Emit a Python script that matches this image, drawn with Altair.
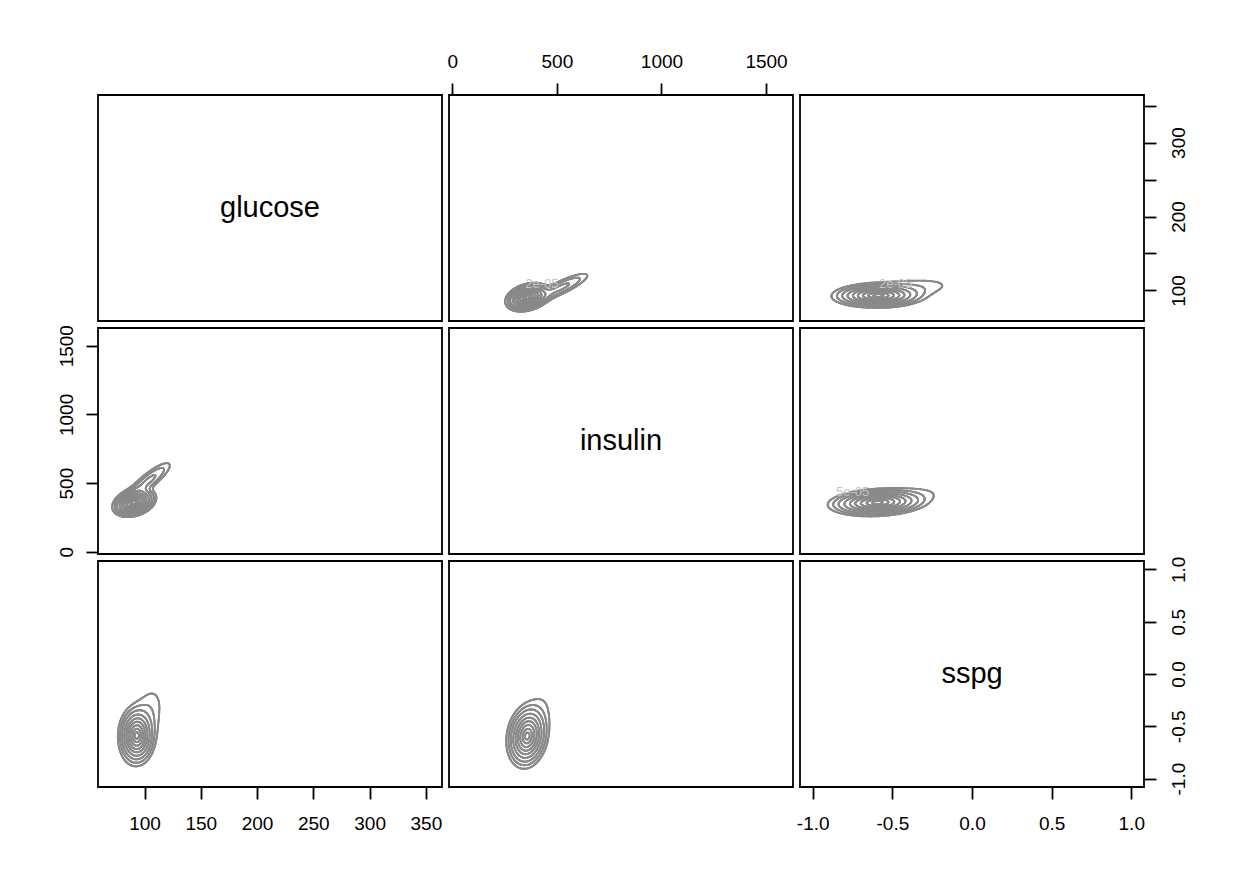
import numpy as np
import pandas as pd
import altair as alt

FONT = "Liberation Sans"
LINE = "#8a8a8a"
LABEL = "#c4c4c4"

VARIABLES = ["glucose", "insulin", "sspg"]
GLUCOSE_DOMAIN = [58.68, 364.32]
INSULIN_DOMAIN = [-15.92, 1628.92]
SSPG_DOMAIN = [-1.08, 1.08]
GLUCOSE_TICKS = [100, 150, 200, 250, 300, 350]
INSULIN_TICKS = [0, 500, 1000, 1500]
SSPG_TICKS = [-1.0, -0.5, 0.0, 0.5, 1.0]

# Gaussian components of each pairwise density, read from the contour shapes
# glucose (x) / insulin (y)
GI_WEIGHT = [1.0, 0.25]
GI_MEAN_X = [91.0, 104.0]
GI_MEAN_Y = [360.0, 520.0]
GI_SD_X = [8.0, 11.5]
GI_SD_Y = [44.0, 78.0]
GI_RHO = [0.3, 0.86]

# glucose (x) / sspg (y)
GS_WEIGHT = [1.0, 0.3]
GS_MEAN_X = [93.0, 100.0]
GS_MEAN_Y = [-0.59, -0.45]
GS_SD_X = [6.7, 11.0]
GS_SD_Y = [0.115, 0.22]
GS_RHO = [0.0, 0.5]

# insulin (x) / sspg (y)
IS_WEIGHT = [1.0, 0.1]
IS_MEAN_X = [358.0, 420.0]
IS_MEAN_Y = [-0.595, -0.35]
IS_SD_X = [41.0, 60.0]
IS_SD_Y = [0.127, 0.2]
IS_RHO = [0.15, 0.4]

# contour levels as fractions of each panel's peak density
CONTOUR_LEVELS = [0.05, 0.093, 0.16, 0.265, 0.4, 0.55, 0.715, 0.865, 0.965]

# contour labels: (x variable, y variable, level index, place along the contour's x range, text)
CONTOUR_LABELS = [
    ("insulin", "glucose", 0, 0.45, "2e-05"),
    ("sspg", "glucose", 1, 0.66, "2e-05"),
    ("sspg", "insulin", 0, 0.24, "5e-05"),
]

DOMAINS = {"glucose": GLUCOSE_DOMAIN, "insulin": INSULIN_DOMAIN, "sspg": SSPG_DOMAIN}
PAIRS = {
    ("glucose", "insulin"): (GI_WEIGHT, GI_MEAN_X, GI_MEAN_Y, GI_SD_X, GI_SD_Y, GI_RHO),
    ("glucose", "sspg"): (GS_WEIGHT, GS_MEAN_X, GS_MEAN_Y, GS_SD_X, GS_SD_Y, GS_RHO),
    ("insulin", "sspg"): (IS_WEIGHT, IS_MEAN_X, IS_MEAN_Y, IS_SD_X, IS_SD_Y, IS_RHO),
}


def pair_density(params, xdom, ydom, n=200):
    w, mx, my, sx, sy, rho = params
    x_lo = max(xdom[0], min(m - 5 * s for m, s in zip(mx, sx)))
    x_hi = min(xdom[1], max(m + 5 * s for m, s in zip(mx, sx)))
    y_lo = max(ydom[0], min(m - 5 * s for m, s in zip(my, sy)))
    y_hi = min(ydom[1], max(m + 5 * s for m, s in zip(my, sy)))
    xg = np.linspace(x_lo, x_hi, n)
    yg = np.linspace(y_lo, y_hi, n)
    X, Y = np.meshgrid(xg, yg)
    Z = np.zeros_like(X)
    for wk, mxk, myk, sxk, syk, rk in zip(w, mx, my, sx, sy, rho):
        dx = (X - mxk) / sxk
        dy = (Y - myk) / syk
        q = (dx ** 2 + dy ** 2 - 2 * rk * dx * dy) / (1 - rk ** 2)
        Z += wk / (2 * np.pi * sxk * syk * np.sqrt(1 - rk ** 2)) * np.exp(-q / 2)
    return xg, yg, Z / Z.max()


def contour_segments(xg, yg, Z, levels):
    z00, z10, z01, z11 = Z[:-1, :-1], Z[:-1, 1:], Z[1:, :-1], Z[1:, 1:]
    X0, Y0 = np.meshgrid(xg[:-1], yg[:-1])
    X1, Y1 = np.meshgrid(xg[1:], yg[1:])
    out = []
    for li, lev in enumerate(levels):
        def cr(a, b):
            return (a >= lev) != (b >= lev)

        def tt(a, b):
            d = b - a
            d = np.where(d == 0, 1e-12, d)
            return (lev - a) / d

        m = np.stack([cr(z00, z10), cr(z10, z11), cr(z01, z11), cr(z00, z01)])
        px = np.stack([X0 + tt(z00, z10) * (X1 - X0), X1, X0 + tt(z01, z11) * (X1 - X0), X0])
        py = np.stack([Y0, Y0 + tt(z10, z11) * (Y1 - Y0), Y1, Y0 + tt(z00, z01) * (Y1 - Y0)])
        cnt = m.sum(0)
        sel = cnt == 2
        idx = np.argsort(~m, axis=0, kind="stable")[:2]
        i0, i1 = idx[0][sel], idx[1][sel]
        pxs, pys = px[:, sel], py[:, sel]
        ar = np.arange(sel.sum())
        segs = [(pxs[i0, ar], pys[i0, ar], pxs[i1, ar], pys[i1, ar])]
        sel4 = cnt == 4
        if sel4.any():
            p4x, p4y = px[:, sel4], py[:, sel4]
            segs.append((p4x[0], p4y[0], p4x[1], p4y[1]))
            segs.append((p4x[2], p4y[2], p4x[3], p4y[3]))
        for a, b, c, d in segs:
            out.append(pd.DataFrame({"x": a, "y": b, "x2": c, "y2": d, "level": li}))
    return pd.concat(out, ignore_index=True)


SEGMENTS = {}
for (vx, vy), params in PAIRS.items():
    xg, yg, Z = pair_density(params, DOMAINS[vx], DOMAINS[vy])
    df = contour_segments(xg, yg, Z, CONTOUR_LEVELS)
    SEGMENTS[(vx, vy)] = df
    SEGMENTS[(vy, vx)] = df.rename(columns={"x": "y", "y": "x", "x2": "y2", "y2": "x2"})

W, H = 344, 226

AX = dict(domain=False, grid=False, ticks=True, tickColor="black", tickWidth=1.8,
          tickSize=12, labelFont=FONT, labelFontSize=19, labelColor="black",
          labelFlush=False, labelOverlap=False, title=None)

SSPG_EXPR = "datum.value < 0 ? '-' + format(-datum.value, '.1f') : format(datum.value, '.1f')"


def axis_for(var, orient):
    ticks = {"glucose": GLUCOSE_TICKS, "insulin": INSULIN_TICKS, "sspg": SSPG_TICKS}[var]
    kw = dict(AX)
    kw["values"] = ticks
    if var == "sspg":
        kw["labelExpr"] = SSPG_EXPR
    elif var == "glucose" and orient == "right":
        kw["format"] = "d"
        kw["labelExpr"] = "datum.value % 100 === 0 ? datum.label : ''"
    else:
        kw["format"] = "d"
    if orient == "top":
        kw.update(labelPadding=12, labelBaseline="bottom", labelAlign="center")
    elif orient == "bottom":
        kw.update(labelPadding=15, labelBaseline="top", labelAlign="center")
    elif orient == "left":
        kw.update(labelPadding=9.5, labelAngle=270, labelAlign="center", labelBaseline="bottom")
    elif orient == "right":
        kw.update(labelPadding=13, labelAngle=270, labelAlign="center", labelBaseline="top")
    return alt.Axis(orient=orient, **kw)


def scale(var):
    return alt.Scale(domain=DOMAINS[var], nice=False, zero=False)


def label_rows(df, vx, vy):
    rows = []
    for a, b, li, frac, t in CONTOUR_LABELS:
        if (a, b) != (vx, vy):
            continue
        sub = df[df["level"] == li]
        x_lo, x_hi = sub["x"].min(), sub["x"].max()
        target = x_lo + frac * (x_hi - x_lo)
        y_mid = sub["y"].mean()
        upper = sub[sub["y"] >= y_mid]
        pick = upper.loc[(upper["x"] - target).abs().idxmin()]
        rows.append({"x": pick["x"], "y": pick["y"], "text": t})
    return rows


def contour_panel(vx, vy, xorient=None, yorient=None):
    df = SEGMENTS[(vx, vy)]
    xenc = alt.X("x:Q", scale=scale(vx), axis=axis_for(vx, xorient) if xorient else None)
    yenc = alt.Y("y:Q", scale=scale(vy), axis=axis_for(vy, yorient) if yorient else None)
    lines = alt.Chart(df).mark_rule(color=LINE, strokeWidth=1.9, strokeCap="round").encode(
        x=xenc, y=yenc, x2="x2:Q", y2="y2:Q"
    )
    rows = label_rows(df, vx, vy)
    if not rows:
        return lines.properties(width=W, height=H)
    lab = alt.Chart(pd.DataFrame(rows)).mark_text(
        font=FONT, fontSize=13, color=LABEL, baseline="middle"
    ).encode(x=alt.X("x:Q", scale=scale(vx)), y=alt.Y("y:Q", scale=scale(vy)), text="text:N")
    return alt.layer(lines, lab).properties(width=W, height=H)


def name_panel(name):
    df = pd.DataFrame({"name": [name]})
    return alt.Chart(df).mark_text(font=FONT, fontSize=29, color="black", baseline="middle").encode(
        x=alt.value(W / 2), y=alt.value(H / 2), text="name:N"
    ).properties(width=W, height=H)


def name_panel_axes(name):
    var = name
    mid = float(np.mean(DOMAINS[var]))
    df = pd.DataFrame({"name": [name], "x": [mid], "y": [mid]})
    return alt.Chart(df).mark_text(font=FONT, fontSize=29, color="black", baseline="middle").encode(
        x=alt.X("x:Q", scale=scale(var), axis=axis_for(var, "bottom")),
        y=alt.Y("y:Q", scale=scale(var), axis=axis_for(var, "right")),
        text="name:N",
    ).properties(width=W, height=H)


panels = [
    name_panel(VARIABLES[0]),
    contour_panel("insulin", "glucose", xorient="top"),
    contour_panel("sspg", "glucose", yorient="right"),
    contour_panel("glucose", "insulin", yorient="left"),
    name_panel(VARIABLES[1]),
    contour_panel("sspg", "insulin"),
    contour_panel("glucose", "sspg", xorient="bottom"),
    contour_panel("insulin", "sspg"),
    name_panel_axes(VARIABLES[2]),
]

chart = alt.concat(
    *panels, columns=3, spacing=7, bounds="flush",
    padding={"left": 48, "top": 43, "right": 5, "bottom": 5},
).configure_view(stroke="black", strokeWidth=1.8)

chart.save("out.html", embed_options={"renderer": "svg", "actions": False})
